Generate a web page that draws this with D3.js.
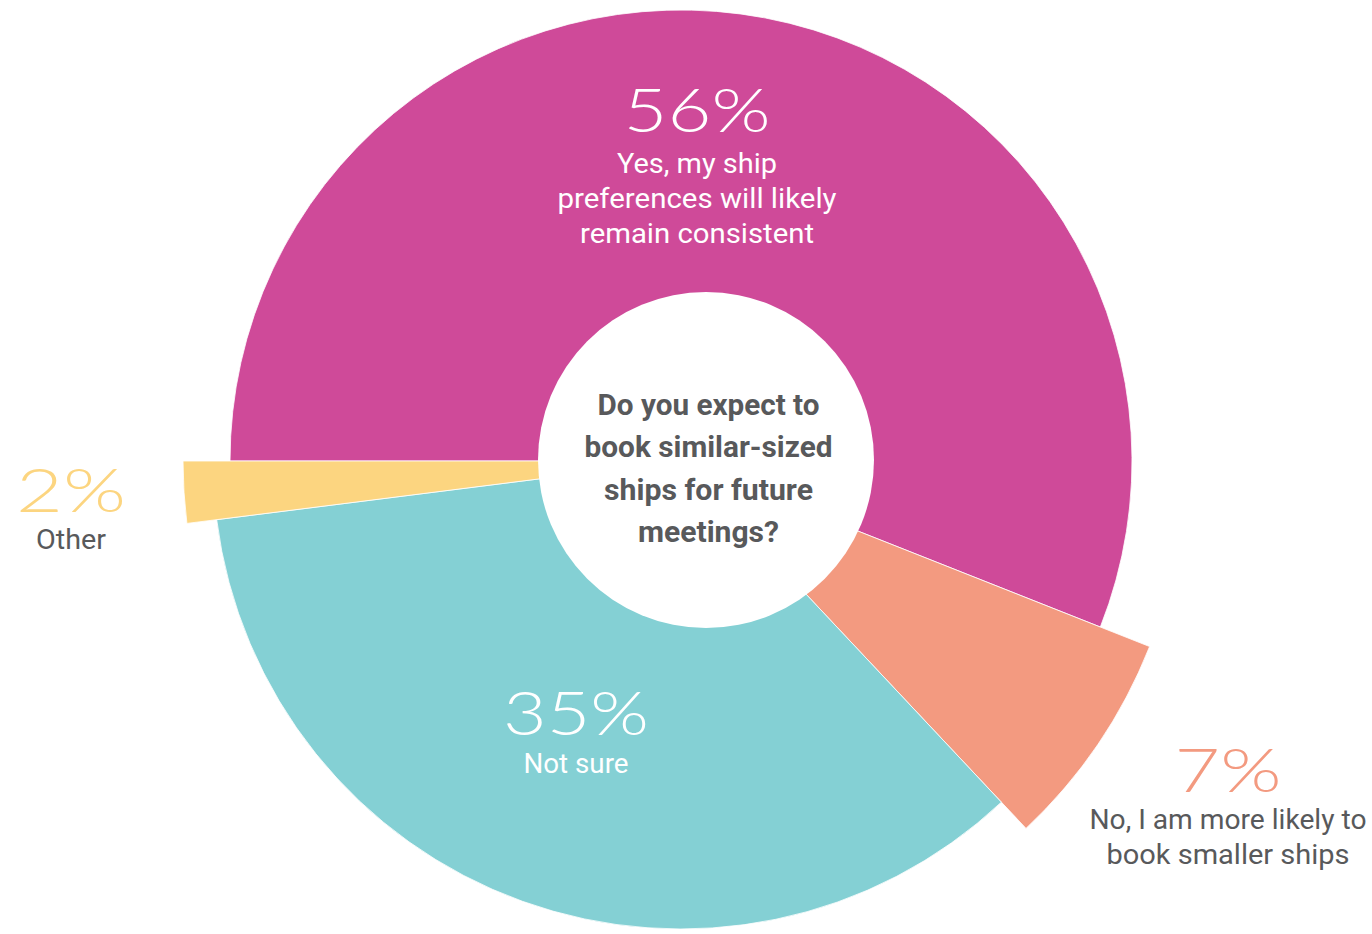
<!DOCTYPE html>
<html><head><meta charset="utf-8">
<script src="https://cdn.jsdelivr.net/npm/d3@7"></script>
<style>html,body{margin:0;padding:0;background:#fff;} svg{display:block;}</style>
</head><body>
<script>
// ---- data ----
const categories = ["Yes", "No", "Not sure", "Other"];
const values = [56, 7, 35, 2];
const percentLabels = ["56%", "7%", "35%", "2%"];
const descLines = [
  ["Yes, my ship", "preferences will likely", "remain consistent"],
  ["No, I am more likely to", "book smaller ships"],
  ["Not sure"],
  ["Other"]
];
const titleLines = ["Do you expect to", "book similar-sized", "ships for future", "meetings?"];

// ---- styles / layout ----
const colors = ["#CF4A99", "#F39A80", "#84D0D4", "#FCD580"];
const pctColors = ["#ffffff", "#F39A80", "#ffffff", "#FCD580"];
const descColors = ["#ffffff", "#58595B", "#ffffff", "#58595B"];
const outerR = [451, 504, 468, 498];
const W = 1372, H = 934;
const cx = 681, cy = 461;
const hole = {x: 706, y: 460, r: 168};
// label anchor: [centerX, percent baseline, first description baseline]
const labelLayout = [
  [697, 132, 173],
  [1228, 792, 829],
  [576, 735, 773],
  [71, 512, 549]
];
const pctWidths = [147, 107, 146, 110];
const descWidths = [[160, 279, 234], [277, 243], [105], [70]];
const titleWidths = [222, 248, 209, 141];

const svg = d3.select("body").append("svg").attr("width", W).attr("height", H);

const pie = d3.pie().sort(null).value(d => d)
  .startAngle(-Math.PI / 2).endAngle(3 * Math.PI / 2);
const arcs = pie(values);

const g = svg.append("g").attr("transform", `translate(${cx},${cy})`);
g.selectAll("path").data(arcs).join("path")
  .attr("d", (d, i) => d3.arc().innerRadius(0).outerRadius(outerR[i])(d))
  .attr("fill", (d, i) => colors[i])
  .attr("stroke", "#fff").attr("stroke-width", 0.8);

svg.append("circle").attr("cx", hole.x).attr("cy", hole.y).attr("r", hole.r).attr("fill", "#fff");

// labels
arcs.forEach((a, i) => {
  const [x, yp, yd] = labelLayout[i];
  svg.append("text").attr("x", x).attr("y", yp).attr("text-anchor", "middle")
    .attr("font-family", "Lato, 'Open Sans', sans-serif").attr("font-weight", 300)
    .attr("font-size", 62).attr("fill", pctColors[i])
    .attr("textLength", pctWidths[i]).attr("lengthAdjust", "spacingAndGlyphs")
    .text(percentLabels[i]);
  descLines[i].forEach((t, j) => {
    svg.append("text").attr("x", x).attr("y", yd + j * 35).attr("text-anchor", "middle")
      .attr("font-family", "Roboto, sans-serif").attr("font-weight", 400)
      .attr("font-size", 28).attr("fill", descColors[i])
      .attr("textLength", descWidths[i][j]).attr("lengthAdjust", "spacingAndGlyphs")
      .text(t);
  });
});

titleLines.forEach((t, j) => {
  svg.append("text").attr("x", 708.5).attr("y", 415 + j * 42.3).attr("text-anchor", "middle")
    .attr("font-family", "Roboto, sans-serif").attr("font-weight", 700)
    .attr("font-size", 30).attr("fill", "#58595B")
    .attr("textLength", titleWidths[j]).attr("lengthAdjust", "spacingAndGlyphs")
    .text(t);
});
</script>
</body></html>
